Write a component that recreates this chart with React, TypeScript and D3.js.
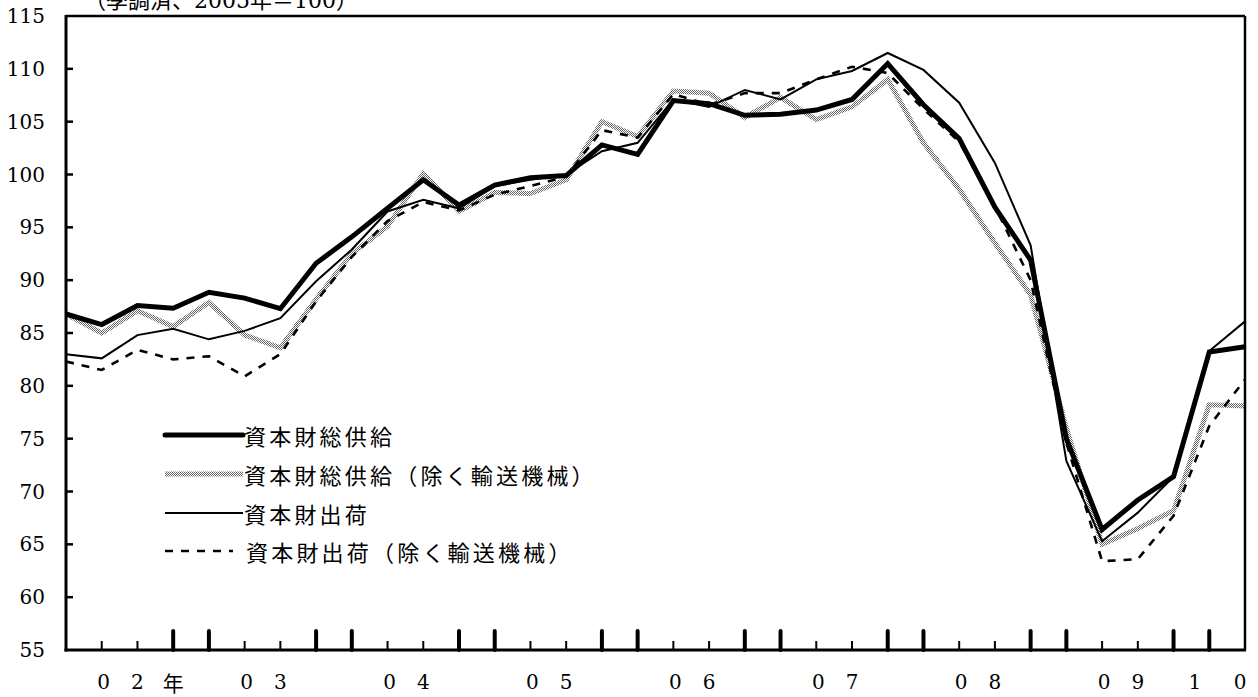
import React from "react";
import * as d3 from "d3";

// Quarterly categories 2002Q1 .. 2010Q2
const years = ["02", "03", "04", "05", "06", "07", "08", "09", "10"];
const quarters: string[] = [];
years.forEach((yy) => ["Q1", "Q2", "Q3", "Q4"].forEach((q) => quarters.push(yy + q)));
const categories = quarters.slice(0, 34);

const yearLabels = ["02年", "03", "04", "05", "06", "07", "08", "09", "10"];
const yTicks = [55, 60, 65, 70, 75, 80, 85, 90, 95, 100, 105, 110, 115];

const totalSupply = [
  86.8, 85.8, 87.6, 87.35, 88.85, 88.3, 87.3, 91.6, 94.1, 96.8, 99.5, 97.1,
  99.0, 99.7, 99.9, 102.8, 101.9, 107.0, 106.7, 105.6, 105.7, 106.1, 107.1, 110.5,
  106.6, 103.4, 96.9, 91.9, 75.0, 66.4, 69.2, 71.4, 83.2, 83.7,
];
const totalSupplyExTransport = [
  86.8, 85.0, 87.1, 85.6, 87.9, 84.8, 83.6, 88.2, 92.5, 95.1, 100.1, 96.5,
  98.3, 98.2, 99.5, 105.0, 103.6, 107.9, 107.7, 105.4, 107.3, 105.2, 106.4, 109.0,
  103.0, 98.6, 93.5, 88.6, 76.0, 65.0, 66.5, 68.2, 78.2, 78.1,
];
const shipments = [
  83.0, 82.6, 84.8, 85.4, 84.4, 85.2, 86.4, 89.9, 92.9, 96.5, 97.6, 96.8,
  98.9, 99.5, 100.0, 102.2, 103.0, 107.1, 106.4, 108.0, 107.1, 109.0, 109.8, 111.5,
  109.9, 106.8, 101.1, 93.3, 72.9, 65.3, 68.0, 71.4, 83.3, 86.1,
];
const shipmentsExTransport = [
  82.3, 81.5, 83.4, 82.5, 82.8, 80.9, 83.0, 88.0, 92.2, 95.6, 97.4, 96.6,
  98.1, 98.9, 99.8, 104.2, 103.5, 107.6, 106.6, 107.7, 107.7, 109.0, 110.2, 109.6,
  106.2, 103.1, 97.0, 90.0, 74.6, 63.4, 63.6, 67.7, 76.2, 80.6,
];

const seriesNames = [
  "資本財総供給",
  "資本財総供給（除く輸送機械）",
  "資本財出荷",
  "資本財出荷（除く輸送機械）",
];

const W = 1258;
const H = 697;
const L = 66;
const R = 1245;
const T = 16;
const B = 650;

const serifFont = "'DejaVu Serif', 'Liberation Serif', 'Noto Sans CJK JP', serif";
const jpFont = "'Noto Sans CJK JP', 'Noto Sans', sans-serif";

export default function App() {
  const x = d3.scaleLinear().domain([0, categories.length - 1]).range([L, R]);
  const y = d3.scaleLinear().domain([55, 115]).range([B, T]);
  const line = d3
    .line<number>()
    .x((_, i) => x(i))
    .y((d) => y(d));

  const styles = [
    { stroke: "#000", width: 5, dash: undefined as string | undefined },
    { stroke: "url(#halftone)", width: 5, dash: undefined },
    { stroke: "#000", width: 2, dash: undefined },
    { stroke: "#000", width: 2.6, dash: "8 8" },
  ];
  const data = [totalSupply, totalSupplyExTransport, shipments, shipmentsExTransport];
  const drawOrder = [1, 0, 2, 3];

  const legendY = [435, 474, 513, 551];

  // x-axis character labels, one character per category slot
  const xChars: { ch: string; px: number }[] = [];
  const last = categories.length - 1;
  yearLabels.forEach((lab, k) => {
    const chars = Array.from(lab);
    const start = 4 * k + 1;
    if (start + chars.length - 1 > last) {
      const s0 = x(last - 1.4);
      const s1 = x(last) - 5;
      chars.forEach((ch, j) => {
        const px = chars.length > 1 ? s0 + ((s1 - s0) * j) / (chars.length - 1) : s1;
        xChars.push({ ch, px });
      });
      return;
    }
    chars.forEach((ch, j) => xChars.push({ ch, px: x(start + j) + (j === 0 ? 2 : 0) }));
  });

  return (
    <svg
      width={W}
      height={H}
      style={{ position: "absolute", left: 0, top: 0, background: "#fff" }}
    >
      <defs>
        <pattern id="halftone" width="2" height="2" patternUnits="userSpaceOnUse">
          <rect width="2" height="2" fill="#fff" />
          <rect x="0" y="0" width="1" height="1" fill="#666" />
          <rect x="1" y="1" width="1" height="1" fill="#666" />
        </pattern>
      </defs>
      <rect x={0} y={0} width={W} height={H} fill="#fff" />

      {/* unit note */}
      <text x={84} y={8} fontFamily={serifFont} fontSize={22} fill="#000">
        （季調済、2005年＝100）
      </text>

      {/* y tick labels */}
      {yTicks.map((v) => (
        <text
          key={"yl" + v}
          x={45}
          y={y(v)}
          textAnchor="end"
          dominantBaseline="central"
          fontFamily={serifFont}
          fontSize={20}
          fill="#000"
        >
          {v}
        </text>
      ))}
      {/* y ticks inward */}
      {yTicks
        .filter((v) => v > 55 && v < 115)
        .map((v) => (
          <line key={"yt" + v} x1={L} x2={L + 7} y1={y(v)} y2={y(v)} stroke="#000" strokeWidth={2.5} />
        ))}

      {/* x ticks */}
      {categories.map((c, i) => {
        if (i === 0 || i === last) return null;
        const thick = i % 4 === 0 || i % 4 === 3;
        return (
          <line
            key={"xt" + c}
            x1={x(i)}
            x2={x(i)}
            y1={B}
            y2={B - (thick ? 19 : 9)}
            stroke="#000"
            strokeWidth={thick ? 4 : 2}
            strokeLinecap={thick ? "round" : "butt"}
          />
        );
      })}

      {/* x labels */}
      {xChars.map((c, i) => (
        <text
          key={"xl" + i}
          x={c.px}
          y={682}
          textAnchor="middle"
          dominantBaseline="central"
          fontFamily={c.ch === "年" ? jpFont : serifFont}
          fontSize={c.ch === "年" ? 21 : 20}
          fill="#000"
        >
          {c.ch}
        </text>
      ))}

      {/* series */}
      {drawOrder.map((si) => (
        <path
          key={"s" + si}
          d={line(data[si]) || ""}
          fill="none"
          stroke={styles[si].stroke}
          strokeWidth={styles[si].width}
          strokeDasharray={styles[si].dash}
          strokeLinejoin="miter"
        />
      ))}

      {/* frame */}
      <line x1={L} x2={R} y1={T} y2={T} stroke="#000" strokeWidth={2.5} />
      <line x1={R} x2={R} y1={T} y2={B} stroke="#000" strokeWidth={2.5} />
      <line x1={L} x2={L} y1={T - 1} y2={B + 1.5} stroke="#000" strokeWidth={3} />
      <line x1={L - 1.5} x2={R + 1} y1={B} y2={B} stroke="#000" strokeWidth={3} />

      {/* legend */}
      {seriesNames.map((name, si) => (
        <g key={"lg" + si}>
          <line
            x1={165}
            x2={si === 3 ? 233 : 243}
            y1={legendY[si]}
            y2={legendY[si]}
            stroke={styles[si].stroke}
            strokeWidth={styles[si].width}
            strokeDasharray={styles[si].dash}
            strokeLinecap={si === 0 ? "round" : "butt"}
          />
          <text
            x={si === 3 ? 246 : 244}
            y={legendY[si]}
            dominantBaseline="central"
            fontFamily={jpFont}
            fontSize={22}
            letterSpacing={3.2}
            fill="#000"
          >
            {name}
          </text>
        </g>
      ))}
    </svg>
  );
}
